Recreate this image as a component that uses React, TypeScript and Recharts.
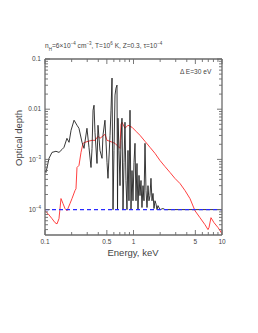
import { Line, LineChart, XAxis, YAxis } from 'recharts';

// black: total line optical depth (floored at 1e-4)
const blackE = [
  0.1, 0.1026, 0.111, 0.12, 0.133, 0.144, 0.156, 0.164, 0.177, 0.187, 0.197, 0.213, 0.23, 0.242,
  0.262, 0.276, 0.298, 0.314, 0.331, 0.34, 0.349, 0.358, 0.367, 0.387, 0.397, 0.418, 0.441, 0.452,
  0.476, 0.502, 0.515, 0.543, 0.557, 0.572, 0.587, 0.602, 0.618, 0.634, 0.651, 0.66, 0.668, 0.686,
  0.704, 0.722, 0.741, 0.761, 0.781, 0.801, 0.822, 0.844, 0.866, 0.889, 0.913, 0.937, 0.962, 0.987,
  1.013, 1.04, 1.067, 1.095, 1.124, 1.154, 1.184, 1.215, 1.247, 1.28, 1.314, 1.349, 1.384, 1.421,
  1.458, 1.496, 1.536, 1.576, 1.618, 1.661, 1.704, 1.749, 1.795, 1.843, 1.891, 1.993, 2.154, 2.269, 10,
];
const blackTau = [
  0.0006, 0.00055, 0.00105, 0.00138, 0.00145, 0.00138, 0.00158, 0.00174, 0.00263, 0.00219, 0.0038,
  0.00603, 0.00479, 0.00417, 0.00219, 0.00166, 0.00417, 0.00174, 0.00069, 0.00166, 0.00955, 0.012,
  0.00347, 0.00083, 0.00479, 0.00151, 0.00105, 0.00302, 0.00603, 0.00087, 0.00042, 0.00302, 0.00955,
  0.0417, 0.0001, 0.00151, 0.0191, 0.0263, 0.0302, 0.0001, 0.00661, 0.00151, 0.0003, 0.0024, 0.00661,
  0.0001, 0.00087, 0.0055, 0.00038, 0.0001, 0.00151, 0.00015, 0.00955, 0.0001, 0.0006, 0.00015,
  0.00087, 0.00209, 0.00015, 0.00083, 0.0001, 0.00048, 0.00019, 0.00038, 0.00011, 0.0003, 0.00015,
  0.00209, 0.00024, 0.00011, 0.0003, 0.00015, 0.00019, 0.00042, 0.00015, 0.00021, 0.000105, 0.00015,
  0.00013, 0.0001, 0.00012, 0.0001, 0.000105, 0.0001, 0.0001,
];

// red: continuum-edge curve
const redE = [
  0.1, 0.1081, 0.12, 0.1297, 0.1367, 0.1439, 0.1516, 0.1597, 0.1683, 0.1773, 0.1917, 0.2019, 0.2183,
  0.224, 0.2299, 0.2422, 0.2552, 0.2688, 0.2832, 0.3061, 0.3398, 0.3673, 0.3971, 0.4183, 0.4764,
  0.5019, 0.5426, 0.618, 0.6681, 0.7037, 0.7222, 0.7413, 0.8013, 0.8663, 0.9618, 1.067, 1.184, 1.349,
  1.536, 1.749, 1.993, 2.269, 2.585, 2.944, 3.353, 3.818, 4.347, 4.953, 5.64, 6.424, 6.947, 7.13, 7.51,
  8.12, 9.01, 10,
];
const redTau = [
  0.000095, 0.000083, 0.000066, 0.000055, 0.000052, 0.000066, 0.000166, 0.000132, 0.000105, 0.000095,
  0.000132, 0.000166, 0.00024, 0.00026, 0.00069, 0.00076, 0.00138, 0.00209, 0.00219, 0.00229, 0.0024,
  0.0024, 0.00288, 0.00263, 0.00316, 0.0024, 0.00229, 0.00209, 0.00182, 0.00166, 0.005, 0.0055,
  0.00417, 0.00479, 0.00437, 0.00363, 0.00302, 0.00229, 0.00174, 0.00132, 0.00095, 0.00072, 0.00055,
  0.000417, 0.000331, 0.00024, 0.000166, 0.000095, 0.000069, 0.00005, 0.00004, 0.000044, 0.000069,
  0.000055, 0.000044, 0.000033,
];

// blue dashed: threshold level
const blueE = [0.1, 10];
const blueTau = [0.0001, 0.0001];

const xTicks = [
  0.1, 0.2, 0.3, 0.4, 0.5, 0.6, 0.7, 0.8, 0.9, 1, 2, 3, 4, 5, 6, 7, 8, 9, 10,
];
const xLabels: Record<string, string> = { '0.1': '0.1', '0.5': '0.5', '1': '1', '5': '5', '10': '10' };

const yTicks = [
  0.00004, 0.00005, 0.00006, 0.00007, 0.00008, 0.00009, 0.0001, 0.0002, 0.0003, 0.0004, 0.0005,
  0.0006, 0.0007, 0.0008, 0.0009, 0.001, 0.002, 0.003, 0.004, 0.005, 0.006, 0.007, 0.008, 0.009,
  0.01, 0.02, 0.03, 0.04, 0.05, 0.06, 0.07, 0.08, 0.09, 0.1,
];
const yLabels: Record<string, [string, string]> = {
  '0.1': ['0.1', ''],
  '0.01': ['0.01', ''],
  '0.001': ['10', '−3'],
  '0.0001': ['10', '−4'],
};

const blackData = blackE.map((e, i) => ({ e, tau: blackTau[i] }));
const redData = redE.map((e, i) => ({ e, tau: redTau[i] }));
const blueData = blueE.map((e, i) => ({ e, tau: blueTau[i] }));

const AXIS = '#6a6a6a';
const TEXT = '#444';
const FONT = '"Liberation Sans", Arial, sans-serif';
const Y_DOMAIN = [0.0000312, 0.1];

const XTick = (props: any) => {
  const { x, y, payload, top } = props;
  const label = xLabels[String(payload.value)];
  const len = label ? 5 : 3;
  return (
    <g>
      <line x1={x} x2={x} y1={y} y2={top ? y + len : y - len} stroke={AXIS} strokeWidth={0.9} />
      {!top && label && (
        <text x={x} y={y + 9} textAnchor="middle" fontSize={6.5} fill={TEXT} fontFamily={FONT}>
          {label}
        </text>
      )}
    </g>
  );
};

const YTick = (props: any) => {
  const { x, y, payload, right } = props;
  const label = yLabels[String(payload.value)];
  const len = label ? 5 : 3;
  return (
    <g>
      <line x1={x} x2={right ? x - len : x + len} y1={y} y2={y} stroke={AXIS} strokeWidth={0.9} />
      {!right && label && (
        <text x={x - 4} y={y + 2.2} textAnchor="end" fontSize={6.5} fill={TEXT} fontFamily={FONT}>
          {label[0]}
          {label[1] && (
            <tspan dy={-2.5} fontSize={4.5}>
              {label[1]}
            </tspan>
          )}
        </text>
      )}
    </g>
  );
};

export default function App() {
  return (
    <div style={{ position: 'absolute', left: 0, top: 0, width: 258, height: 333, background: '#fff' }}>
      <LineChart width={258} height={333} margin={{ top: 58, right: 35, bottom: 97, left: 44 }}>
        <XAxis
          xAxisId="b"
          type="number"
          dataKey="e"
          scale="log"
          domain={[0.1, 10]}
          allowDataOverflow
          ticks={xTicks}
          interval={0}
          height={1}
          tickSize={0}
          tickMargin={0}
          tickLine={false}
          axisLine={{ stroke: AXIS, strokeWidth: 1.3 }}
          tick={<XTick />}
        />
        <XAxis
          xAxisId="t"
          orientation="top"
          type="number"
          dataKey="e"
          scale="log"
          domain={[0.1, 10]}
          allowDataOverflow
          ticks={xTicks}
          interval={0}
          height={1}
          tickSize={0}
          tickMargin={0}
          tickLine={false}
          axisLine={{ stroke: AXIS, strokeWidth: 1.3 }}
          tick={<XTick top />}
        />
        <YAxis
          yAxisId="l"
          type="number"
          scale="log"
          domain={Y_DOMAIN}
          allowDataOverflow
          ticks={yTicks}
          interval={0}
          width={1}
          tickSize={0}
          tickMargin={0}
          tickLine={false}
          axisLine={{ stroke: AXIS, strokeWidth: 1.3 }}
          tick={<YTick />}
        />
        <YAxis
          yAxisId="r"
          orientation="right"
          type="number"
          scale="log"
          domain={Y_DOMAIN}
          allowDataOverflow
          ticks={yTicks}
          interval={0}
          width={1}
          tickSize={0}
          tickMargin={0}
          tickLine={false}
          axisLine={{ stroke: AXIS, strokeWidth: 1.3 }}
          tick={<YTick right />}
        />
        <Line
          xAxisId="b"
          yAxisId="l"
          data={redData}
          dataKey="tau"
          type="linear"
          stroke="#ff2a2a"
          strokeWidth={0.9}
          dot={false}
          isAnimationActive={false}
        />
        <Line
          xAxisId="b"
          yAxisId="l"
          data={blackData}
          dataKey="tau"
          type="linear"
          stroke="#222"
          strokeWidth={0.9}
          dot={false}
          isAnimationActive={false}
        />
        <Line
          xAxisId="b"
          yAxisId="l"
          data={blueData}
          dataKey="tau"
          type="linear"
          stroke="#2a2aff"
          strokeWidth={1.1}
          strokeDasharray="4 3"
          dot={false}
          isAnimationActive={false}
        />
      </LineChart>
      <div
        style={{
          position: 'absolute', left: 45, top: 41, fontSize: 6.6, fontFamily: FONT, color: TEXT, whiteSpace: 'nowrap',
        }}
      >
        n<sub style={{ fontSize: 4.5 }}>H</sub>=6×10<sup style={{ fontSize: 4.5 }}>−4</sup> cm
        <sup style={{ fontSize: 4.5 }}>−3</sup>, T=10<sup style={{ fontSize: 4.5 }}>6</sup> K, Z=0.3, τ=10
        <sup style={{ fontSize: 4.5 }}>−4</sup>
      </div>
      <div
        style={{
          position: 'absolute', left: 180, top: 68, fontSize: 6.6, fontFamily: FONT, color: TEXT, whiteSpace: 'nowrap',
        }}
      >
        Δ E=30 eV
      </div>
      <div
        style={{
          position: 'absolute', left: 133, top: 252, transform: 'translate(-50%, -50%)', fontSize: 9.5,
          fontFamily: FONT, color: TEXT, whiteSpace: 'nowrap',
        }}
      >
        Energy, keV
      </div>
      <div
        style={{
          position: 'absolute', left: 18, top: 138, transform: 'translate(-50%, -50%) rotate(-90deg)', fontSize: 9.5,
          fontFamily: FONT, color: TEXT, whiteSpace: 'nowrap',
        }}
      >
        Optical depth
      </div>
    </div>
  );
}
